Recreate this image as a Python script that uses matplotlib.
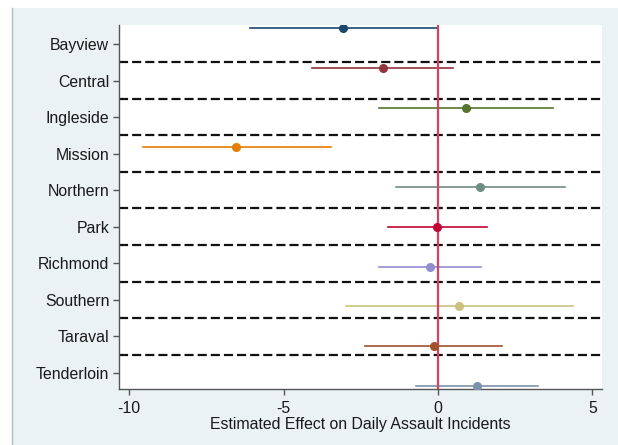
import numpy as np
import matplotlib
matplotlib.use('Agg')
import matplotlib.pyplot as plt
from matplotlib.patches import Rectangle
from matplotlib.lines import Line2D

plt.rcParams['font.family'] = ['Liberation Sans', 'DejaVu Sans']

districts = ['Bayview', 'Central', 'Ingleside', 'Mission', 'Northern',
             'Park', 'Richmond', 'Southern', 'Taraval', 'Tenderloin']
estimate = [-3.07, -1.79, 0.92, -6.53, 1.36, -0.02, -0.26, 0.69, -0.14, 1.25]
ci_low = [-6.09, -4.08, -1.90, -9.56, -1.37, -1.62, -1.90, -2.97, -2.36, -0.72]
ci_high = [-0.01, 0.50, 3.72, -3.47, 4.11, 1.59, 1.38, 4.37, 2.06, 3.25]
x_ticks = [-10, -5, 0, 5]

# Stata s2color palette
colors = ['#1A476F', '#90353B', '#55752F', '#E37E00', '#6E8E84',
          '#C10534', '#938DD2', '#CAC27E', '#A0522D', '#7B92A8']

W, H = 618, 445
fig = plt.figure(figsize=(W / 100, H / 100), dpi=100, facecolor='white')

# light graph region like Stata
fig.patches.append(Rectangle((12 / W, 0), 1 - 12 / W, 437 / H, transform=fig.transFigure,
                             facecolor='#EAF2F3', edgecolor='none', zorder=-5))
fig.lines.append(Line2D([12 / W, 12 / W], [1 / H, 437 / H], transform=fig.transFigure,
                        color='#BBBBBB', lw=1.0, zorder=-4))

ax = fig.add_axes([119 / W, 56 / H, 483 / W, 364 / H])
ax.set_facecolor('white')
n = len(districts)
pos = np.arange(n)

fs = 11.4
ax.set_ylim(9.44, -0.52)
ax.set_xlim(-10.33, 5.31)
ax.set_yticks(pos)
ax.set_yticklabels(districts, fontsize=fs)
ax.set_xticks(x_ticks)
ax.set_xticklabels([str(t) for t in x_ticks], fontsize=fs)
ax.set_xlabel('Estimated Effect on Daily Assault Incidents', fontsize=fs,
              labelpad=1, color='#1a1a1a')

for side in ['top', 'right']:
    ax.spines[side].set_visible(False)
for side in ['left', 'bottom']:
    ax.spines[side].set_color('#555555')
    ax.spines[side].set_linewidth(1.0)
ax.tick_params(axis='both', direction='out', length=4, width=1, color='#555555',
               labelcolor='#1a1a1a')
ax.tick_params(axis='x', pad=4.5)
ax.tick_params(axis='y', pad=3)

# dashed separators between district labels
for k in pos[:-1]:
    ax.axhline(k + 0.5, color='#111111', lw=1.6, linestyle=(0, (4.1, 1.8)), zorder=1)

# coefficients on their own vertical scale
ax2 = ax.twinx()
ax2.set_ylim(n - 1 + 0.08, -0.075)
ax2.set_xlim(ax.get_xlim())
ax2.axis('off')

ax2.axvline(0, color='#D8405F', lw=1.6, zorder=2)
for i in range(n):
    ax2.plot([ci_low[i], ci_high[i]], [pos[i], pos[i]], color=colors[i], lw=1.2, zorder=1)
    ax2.plot(estimate[i], pos[i], 'o', color=colors[i], markersize=5.5, zorder=3)

fig.savefig('out.png', dpi=100, facecolor=fig.get_facecolor())
